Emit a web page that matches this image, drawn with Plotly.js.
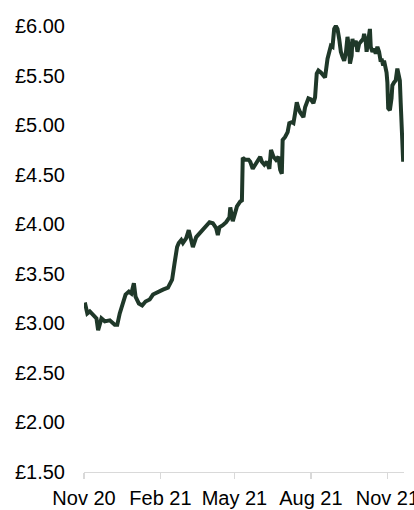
<!DOCTYPE html>
<html>
<head>
<meta charset="utf-8">
<script src="https://cdn.plot.ly/plotly-3.0.1.min.js"></script>
<style>
html,body{margin:0;padding:0;background:#fff;}
#chart{width:414px;height:510px;}
</style>
</head>
<body>
<div id="chart"></div>
<script>
const dates = [
"2020-11-02","2020-11-05","2020-11-08","2020-11-12","2020-11-16","2020-11-18","2020-11-22","2020-11-26",
"2020-12-02","2020-12-08","2020-12-11","2020-12-14","2020-12-17","2020-12-21","2020-12-25","2020-12-28","2020-12-31",
"2021-01-02","2021-01-06","2021-01-10","2021-01-14","2021-01-19","2021-01-23","2021-01-29",
"2021-02-04","2021-02-10","2021-02-15","2021-02-18","2021-02-21","2021-02-23","2021-02-26","2021-02-28",
"2021-03-04","2021-03-07","2021-03-10","2021-03-12","2021-03-16","2021-03-20","2021-03-24","2021-03-28",
"2021-04-01","2021-04-05","2021-04-09","2021-04-11","2021-04-13","2021-04-17","2021-04-21","2021-04-25","2021-04-26","2021-04-29",
"2021-05-02","2021-05-04","2021-05-08","2021-05-10","2021-05-11","2021-05-14","2021-05-18","2021-05-20","2021-05-23","2021-05-26","2021-05-29",
"2021-06-01","2021-06-03","2021-06-06","2021-06-09","2021-06-12","2021-06-14","2021-06-17","2021-06-20","2021-06-23","2021-06-25","2021-06-27","2021-06-28",
"2021-07-01","2021-07-04","2021-07-06","2021-07-09","2021-07-11","2021-07-13","2021-07-15","2021-07-17","2021-07-19","2021-07-23","2021-07-25","2021-07-29",
"2021-08-01","2021-08-04","2021-08-06","2021-08-08","2021-08-10","2021-08-13","2021-08-17","2021-08-18","2021-08-21","2021-08-23","2021-08-25","2021-08-27","2021-08-29","2021-08-31",
"2021-09-02","2021-09-04","2021-09-06","2021-09-08","2021-09-10","2021-09-12","2021-09-14","2021-09-16","2021-09-17","2021-09-19","2021-09-20","2021-09-21","2021-09-24","2021-09-26","2021-09-28","2021-09-30",
"2021-10-03","2021-10-04","2021-10-06","2021-10-07","2021-10-09","2021-10-11","2021-10-12","2021-10-14","2021-10-16","2021-10-18","2021-10-20","2021-10-22","2021-10-24","2021-10-25","2021-10-27","2021-10-28","2021-10-31",
"2021-11-01","2021-11-02","2021-11-04","2021-11-06","2021-11-07","2021-11-09","2021-11-11","2021-11-13","2021-11-14","2021-11-16","2021-11-17","2021-11-18","2021-11-20"
];
const prices = [
3.21,3.10,3.12,3.09,3.05,2.93,3.05,3.02,
3.03,2.985,2.985,3.10,3.19,3.29,3.32,3.30,3.405,
3.27,3.20,3.18,3.22,3.24,3.29,3.32,
3.34,3.36,3.44,3.61,3.77,3.81,3.84,3.81,
3.86,3.94,3.82,3.77,3.87,3.91,3.94,3.99,
4.02,4.01,3.96,3.89,3.97,3.99,4.02,4.07,4.17,4.03,
4.11,4.18,4.23,4.24,4.67,4.65,4.65,4.63,4.56,4.60,4.65,
4.68,4.63,4.60,4.63,4.56,4.75,4.68,4.65,4.68,4.55,4.51,4.85,
4.88,4.93,5.02,5.03,5.02,5.12,5.23,5.17,5.13,5.08,5.18,5.27,
5.26,5.22,5.28,5.52,5.55,5.53,5.50,5.48,5.67,5.75,5.80,5.79,5.97,6.00,
5.97,5.87,5.74,5.69,5.65,5.72,5.89,5.77,5.62,5.70,5.87,5.80,5.85,5.74,5.82,5.84,
5.87,5.92,5.84,5.74,5.84,5.97,5.79,5.74,5.77,5.72,5.79,5.74,5.64,5.67,5.60,5.65,5.53,
5.43,5.17,5.15,5.27,5.40,5.43,5.45,5.57,5.52,5.45,5.23,4.93,4.63
];
const xTickVals = ["2020-11-01","2021-02-01","2021-05-01","2021-08-01","2021-11-01"];
const xTickText = ["Nov 20","Feb 21","May 21","Aug 21","Nov 21"];
const yTickVals = [1.5,2.0,2.5,3.0,3.5,4.0,4.5,5.0,5.5,6.0];
const yTickText = ["£1.50","£2.00","£2.50","£3.00","£3.50","£4.00","£4.50","£5.00","£5.50","£6.00"];

const trace = {
  x: dates, y: prices, type: "scatter", mode: "lines",
  line: {color: "#1f3829", width: 4, shape: "linear"},
  hoverinfo: "skip"
};
const layout = {
  width: 414, height: 510,
  margin: {l: 84.3, r: 10.4, t: 22.5, b: 37.5, pad: 0},
  paper_bgcolor: "#ffffff", plot_bgcolor: "#ffffff",
  showlegend: false,
  font: {family: "Liberation Sans, Arial, sans-serif", size: 20, color: "#000000"},
  xaxis: {
    type: "date",
    range: ["2020-11-01", "2021-11-21"],
    tickmode: "array", tickvals: xTickVals, ticktext: xTickText,
    showgrid: false, zeroline: false,
    showline: true, linecolor: "#d9d9d9", linewidth: 1.3,
    ticks: "outside", ticklen: 6, tickcolor: "#d9d9d9", tickwidth: 1.3,
    tickfont: {size: 20, color: "#000000"},
    ticklabelstandoff: 2,
    ticklabeloverflow: "allow"
  },
  yaxis: {
    range: [1.5, 6.03],
    tickmode: "array", tickvals: yTickVals, ticktext: yTickText,
    showgrid: false, zeroline: false, showline: false,
    ticks: "",
    tickfont: {size: 20, color: "#000000"},
    ticklabelstandoff: 18
  }
};
Plotly.newPlot("chart", [trace], layout, {displayModeBar: false, staticPlot: true});
</script>
</body>
</html>
